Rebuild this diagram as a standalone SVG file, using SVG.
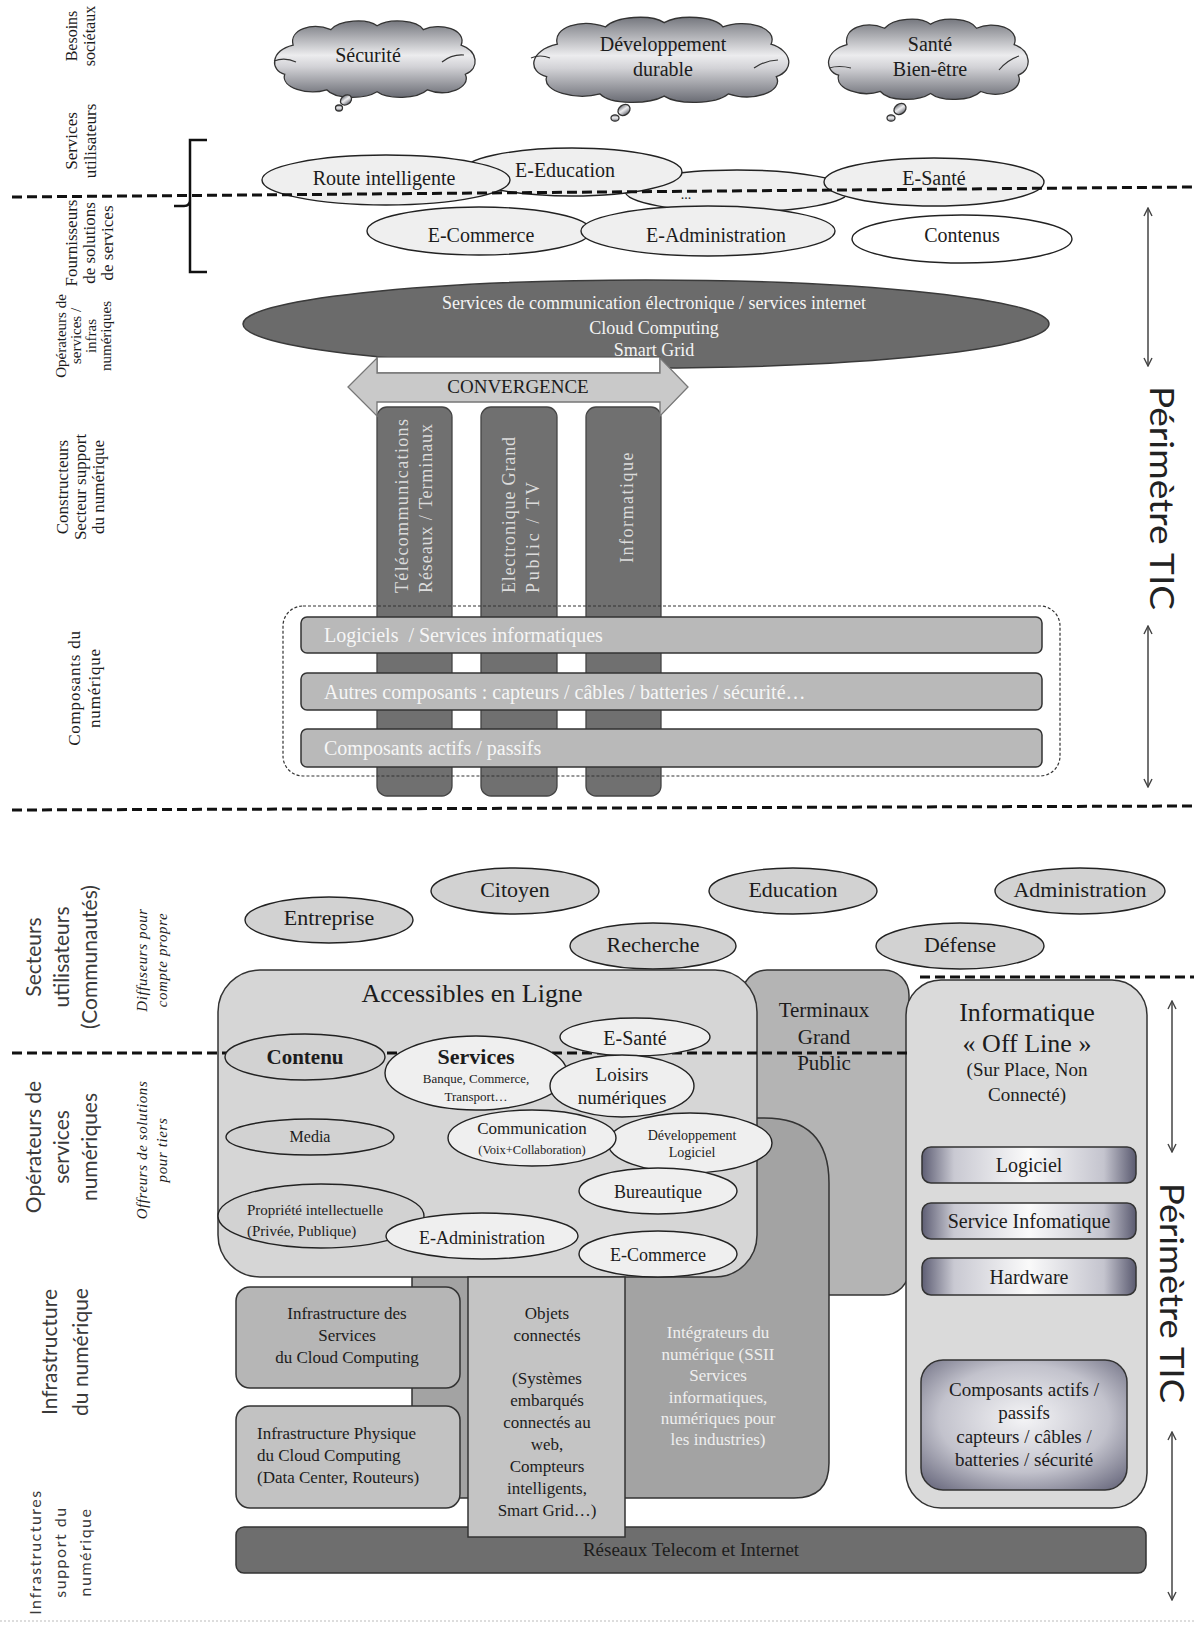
<svg xmlns="http://www.w3.org/2000/svg" width="1194" height="1625" viewBox="0 0 1194 1625">
<defs>
<style>
.t{font-family:"Liberation Serif","Times New Roman",serif;fill:#1c1c1c}
.m{text-anchor:middle}
.s{font-family:Lato,"Open Sans","Liberation Sans",sans-serif;fill:#3a3a3a;text-anchor:middle}
.el{fill:#efefef;stroke:#222;stroke-width:1.4}
.eg{fill:#d2d2d2;stroke:#222;stroke-width:1.4}
.dash{fill:none;stroke:#111;stroke-width:3;stroke-dasharray:10 5}
.arr{fill:none;stroke:#444;stroke-width:1.5;marker-start:url(#ah);marker-end:url(#ah)}
.cl{fill:url(#cg);stroke:#333;stroke-width:1.3}
.curl{fill:none;stroke:#333;stroke-width:1.2}
.bar{fill:#b9b9b9;stroke:#333;stroke-width:1.5}
.vb{fill:#707070;stroke:#444;stroke-width:1.3}
.met{fill:url(#mg);stroke:#333;stroke-width:1.5}
.lw{fill:#f4f4f4}
.bt{fill:#dcdcdc}
</style>
<linearGradient id="cg" x1="0" y1="0" x2="0" y2="1">
<stop offset="0" stop-color="#76787f"/>
<stop offset="0.45" stop-color="#ececee"/>
<stop offset="0.6" stop-color="#d2d2d6"/>
<stop offset="1" stop-color="#6a6c74"/>
</linearGradient>
<linearGradient id="mg" x1="0" y1="0" x2="1" y2="0">
<stop offset="0" stop-color="#5e5e74"/>
<stop offset="0.15" stop-color="#c9c9d2"/>
<stop offset="0.5" stop-color="#fafafa"/>
<stop offset="0.85" stop-color="#c4c4ce"/>
<stop offset="1" stop-color="#5a5a70"/>
</linearGradient>
<radialGradient id="mg2" cx="0.5" cy="0.45" r="0.75">
<stop offset="0" stop-color="#f4f4f6"/>
<stop offset="0.55" stop-color="#c2c2cc"/>
<stop offset="1" stop-color="#5c5c72"/>
</radialGradient>
<marker id="ah" viewBox="0 0 10 10" refX="9" refY="5" markerWidth="10" markerHeight="10" markerUnits="userSpaceOnUse" orient="auto-start-reverse">
<path d="M1,1 L9,5 L1,9" fill="none" stroke="#444" stroke-width="1.4"/>
</marker>
<path id="cloud" vector-effect="non-scaling-stroke" d="M22,28 C18,12 40,4 58,12 C66,2 92,0 102,8 C114,0 140,2 146,12 C162,4 188,12 182,28 C198,34 200,52 186,58 C192,72 168,82 150,74 C140,84 112,84 102,76 C90,84 62,84 54,74 C36,80 10,72 14,58 C0,54 0,34 22,28 Z"/>
</defs>
<rect x="0" y="0" width="1194" height="1625" fill="#ffffff"/>

<!-- Left labels, top section -->
<g id="lbl-besoins" class="t" font-size="16"><text class="m" transform="translate(77,36) rotate(-90)"><tspan x="0" y="0">Besoins</tspan><tspan x="0" y="18">sociétaux</tspan></text></g>
<g id="lbl-services-util" class="t" font-size="17"><text class="m" transform="translate(77,141) rotate(-90)"><tspan x="0" y="0">Services</tspan><tspan x="0" y="19">utilisateurs</tspan></text></g>
<g id="lbl-fournisseurs" class="t" font-size="17"><text class="m" transform="translate(77,243) rotate(-90)"><tspan x="0" y="0">Fournisseurs</tspan><tspan x="0" y="18">de solutions</tspan><tspan x="0" y="36">de services</tspan></text></g>
<g id="lbl-operateurs" class="t" font-size="15"><text class="m" transform="translate(66,336) rotate(-90)"><tspan x="0" y="0">Opérateurs de</tspan><tspan x="0" y="15">services /</tspan><tspan x="0" y="30">infras</tspan><tspan x="0" y="45">numériques</tspan></text></g>
<g id="lbl-constructeurs" class="t" font-size="17"><text class="m" transform="translate(68,487) rotate(-90)"><tspan x="0" y="0">Constructeurs</tspan><tspan x="0" y="18">Secteur support</tspan><tspan x="0" y="36">du numérique</tspan></text></g>
<g id="lbl-composants" class="t" font-size="17"><text class="m" letter-spacing="0.8" transform="translate(80,688) rotate(-90)"><tspan x="0" y="0">Composants du</tspan><tspan x="0" y="20">numérique</tspan></text></g>

<!-- Clouds -->
<g id="cloud-securite">
<use href="#cloud" class="cl" transform="translate(270,18) scale(1.05,0.97)"/>
<path class="curl" d="M274,61 Q285,57 296,62 M464,55 Q452,54 442,62"/>
<ellipse cx="346" cy="100" rx="6" ry="4.5" class="cl" transform="rotate(-35 346 100)"/>
<ellipse cx="339" cy="108" rx="3.5" ry="3" class="cl"/>
<text class="t m" x="368" y="62" font-size="20">Sécurité</text>
</g>
<g id="cloud-developpement">
<use href="#cloud" class="cl" transform="translate(528,14) scale(1.335,1.08)"/>
<path class="curl" d="M531,58 Q540,54 550,58 M778,60 Q766,60 754,68"/>
<ellipse cx="624" cy="110" rx="6.5" ry="5" class="cl" transform="rotate(-35 624 110)"/>
<ellipse cx="615" cy="118" rx="4" ry="3.2" class="cl"/>
<text class="t m" x="663" y="51" font-size="20">Développement</text>
<text class="t m" x="663" y="76" font-size="20">durable</text>
</g>
<g id="cloud-sante">
<use href="#cloud" class="cl" transform="translate(824,16) scale(1.045,1.02)"/>
<path class="curl" d="M829,68 Q839,65 851,68 M1019,56 Q1007,60 999,70"/>
<ellipse cx="900" cy="109" rx="6.5" ry="5" class="cl" transform="rotate(-35 900 109)"/>
<ellipse cx="891" cy="118" rx="4" ry="3.2" class="cl"/>
<text class="t m" x="930" y="51" font-size="20">Santé</text>
<text class="t m" x="930" y="76" font-size="20">Bien-être</text>
</g>

<!-- Bracket -->
<g id="bracket"><path d="M207,140 H190 V272 H207 M190,200 Q190,206 184,206 H174" fill="none" stroke="#111" stroke-width="2.5"/></g>

<!-- Service ellipses -->
<g id="e-dots"><ellipse class="el" cx="737" cy="191" rx="112" ry="21"/><text class="t m" x="686" y="199" font-size="14">...</text></g>
<g id="e-education"><ellipse class="el" cx="572" cy="172" rx="110" ry="24"/><text class="t m" x="565" y="177" font-size="20">E-Education</text></g>
<g id="e-route"><ellipse class="el" cx="386" cy="180" rx="124" ry="25"/><text class="t m" x="384" y="185" font-size="20">Route intelligente</text></g>
<g id="e-sante-top"><ellipse class="el" cx="934" cy="182" rx="110" ry="24"/><text class="t m" x="934" y="185" font-size="20">E-Santé</text></g>
<g id="e-commerce-top"><ellipse class="el" cx="479" cy="231" rx="112" ry="24"/><text class="t m" x="481" y="242" font-size="20">E-Commerce</text></g>
<g id="e-admin-top"><ellipse class="el" cx="708" cy="231" rx="127" ry="25"/><text class="t m" x="716" y="242" font-size="20">E-Administration</text></g>
<g id="e-contenus"><ellipse cx="962" cy="239" rx="110" ry="24" fill="#ffffff" stroke="#222" stroke-width="1.4"/><text class="t m" x="962" y="242" font-size="20">Contenus</text></g>

<!-- Services de communication -->
<g id="services-comm">
<ellipse cx="646" cy="324" rx="403" ry="44" fill="#6b6b6b" stroke="#3a3a3a" stroke-width="1.5"/>
<text class="t m lw" x="654" y="309" font-size="18">Services de communication électronique / services internet</text>
<text class="t m lw" x="654" y="334" font-size="18">Cloud Computing</text>
<text class="t m lw" x="654" y="356" font-size="18">Smart Grid</text>
</g>
<rect x="377" y="357" width="283" height="16" fill="#ffffff" stroke="#555" stroke-width="1.2"/>

<!-- Vertical bars -->
<g id="bar-telecom">
<rect class="vb" x="377" y="407" width="75" height="389" rx="10"/>
<text class="t bt" font-size="18" transform="translate(408,593) rotate(-90)" textLength="174" lengthAdjust="spacing">Télécommunications</text>
<text class="t bt" font-size="18" transform="translate(432,593) rotate(-90)" textLength="169" lengthAdjust="spacing">Réseaux / Terminaux</text>
</g>
<g id="bar-electronique">
<rect class="vb" x="481" y="407" width="76" height="389" rx="10"/>
<text class="t bt" font-size="18" transform="translate(515,593) rotate(-90)" textLength="156" lengthAdjust="spacing">Electronique Grand</text>
<text class="t bt" font-size="18" transform="translate(539,593) rotate(-90)" textLength="111" lengthAdjust="spacing">Public / TV</text>
</g>
<g id="bar-informatique">
<rect class="vb" x="586" y="407" width="75" height="389" rx="10"/>
<text class="t m bt" font-size="18" letter-spacing="1.5" transform="translate(633,507) rotate(-90)">Informatique</text>
</g>

<!-- Convergence arrow -->
<g id="convergence">
<polygon points="348,387 377,358 377,373 660,373 660,358 688,387 660,416 660,402 377,402 377,416" fill="#c9c9c9" stroke="#777" stroke-width="1.3"/>
<text class="t m" x="518" y="393" font-size="19">CONVERGENCE</text>
</g>

<!-- Composants -->
<g id="composants-group"><rect x="283" y="606" width="777" height="170" rx="20" fill="none" stroke="#333" stroke-width="1.2" stroke-dasharray="3 2"/></g>
<g id="bar-logiciels"><rect class="bar" x="301" y="617" width="741" height="36" rx="6"/><text class="t" x="324" y="642" font-size="20" style="fill:#f6f6f6" xml:space="preserve">Logiciels  / Services informatiques</text></g>
<g id="bar-autres"><rect class="bar" x="301" y="673" width="741" height="37" rx="6"/><text class="t" x="324" y="699" font-size="20" style="fill:#f6f6f6">Autres composants : capteurs / câbles / batteries / sécurité…</text></g>
<g id="bar-actifs"><rect class="bar" x="301" y="729" width="741" height="38" rx="6"/><text class="t" x="324" y="755" font-size="20" style="fill:#f6f6f6">Composants actifs / passifs</text></g>

<!-- Bottom left labels -->
<g id="lbl-secteurs"><text class="s" font-size="21" transform="translate(41,957) rotate(-90)"><tspan x="0" y="0">Secteurs</tspan><tspan x="0" y="28">utilisateurs</tspan><tspan x="0" y="56">(Communautés)</tspan></text></g>
<g id="lbl-diffuseurs"><text class="t m" font-size="15" font-style="italic" letter-spacing="0.6" transform="translate(147,960) rotate(-90)"><tspan x="0" y="0">Diffuseurs pour</tspan><tspan x="0" y="20">compte propre</tspan></text></g>
<g id="lbl-operateurs-num"><text class="s" font-size="21" transform="translate(41,1147) rotate(-90)"><tspan x="0" y="0">Opérateurs de</tspan><tspan x="0" y="28">services</tspan><tspan x="0" y="56">numériques</tspan></text></g>
<g id="lbl-offreurs"><text class="t m" font-size="15" font-style="italic" letter-spacing="0.6" transform="translate(147,1150) rotate(-90)"><tspan x="0" y="0">Offreurs de solutions</tspan><tspan x="0" y="20">pour tiers</tspan></text></g>
<g id="lbl-infra"><text class="s" font-size="21" transform="translate(57,1352) rotate(-90)"><tspan x="0" y="0">Infrastructure</tspan><tspan x="0" y="31">du numérique</tspan></text></g>
<g id="lbl-infra-support"><text class="s" font-size="16" letter-spacing="1.5" transform="translate(41,1552) rotate(-90)"><tspan x="0" y="0">Infrastructures</tspan><tspan x="0" y="25">support du</tspan><tspan x="0" y="50">numérique</tspan></text></g>

<!-- Sector ellipses -->
<g id="s-entreprise"><ellipse class="eg" cx="329" cy="920" rx="84" ry="23"/><text class="t m" x="329" y="925" font-size="22">Entreprise</text></g>
<g id="s-citoyen"><ellipse class="eg" cx="515" cy="891" rx="84" ry="23"/><text class="t m" x="515" y="897" font-size="22">Citoyen</text></g>
<g id="s-recherche"><ellipse class="eg" cx="653" cy="946" rx="83" ry="23"/><text class="t m" x="653" y="952" font-size="22">Recherche</text></g>
<g id="s-education"><ellipse class="eg" cx="793" cy="891" rx="84" ry="23"/><text class="t m" x="793" y="897" font-size="22">Education</text></g>
<g id="s-administration"><ellipse class="eg" cx="1080" cy="891" rx="85" ry="23"/><text class="t m" x="1080" y="897" font-size="22">Administration</text></g>
<g id="s-defense"><ellipse class="eg" cx="960" cy="946" rx="84" ry="23"/><text class="t m" x="960" y="952" font-size="22">Défense</text></g>

<!-- Bottom boxes -->
<g id="terminaux">
<rect x="742" y="970" width="167" height="325" rx="25" fill="#b4b4b4" stroke="#333" stroke-width="1.5"/>
<text class="t m" x="824" y="1017" font-size="21">Terminaux</text>
<text class="t m" x="824" y="1044" font-size="21">Grand</text>
<text class="t m" x="824" y="1070" font-size="21">Public</text>
</g>
<g id="integrateurs">
<path d="M412,1118 H764 Q829,1118 829,1183 V1463 Q829,1498 794,1498 H412 Z" fill="#a3a3a3" stroke="#333" stroke-width="1.5"/>
<g class="t m" font-size="17" style="fill:#efefef">
<text x="718" y="1338">Intégrateurs du</text>
<text x="718" y="1360">numérique (SSII</text>
<text x="718" y="1381">Services</text>
<text x="718" y="1403">informatiques,</text>
<text x="718" y="1424">numériques pour</text>
<text x="718" y="1445">les industries)</text>
</g>
</g>
<g id="accessibles">
<rect x="218" y="970" width="539" height="307" rx="42" fill="#d6d6d6" stroke="#333" stroke-width="1.5"/>
<text class="t m" x="472" y="1002" font-size="26">Accessibles en Ligne</text>
</g>
<g id="informatique-offline">
<rect x="906" y="980" width="241" height="528" rx="35" fill="#dadada" stroke="#333" stroke-width="1.5"/>
<text class="t m" x="1027" y="1021" font-size="26">Informatique</text>
<text class="t m" x="1027" y="1052" font-size="26">« Off Line »</text>
<text class="t m" x="1027" y="1076" font-size="19">(Sur Place, Non</text>
<text class="t m" x="1027" y="1101" font-size="19">Connecté)</text>
</g>
<g id="off-logiciel"><rect class="met" x="922" y="1147" width="214" height="36" rx="9"/><text class="t m" x="1029" y="1172" font-size="20">Logiciel</text></g>
<g id="off-service"><rect class="met" x="922" y="1203" width="214" height="36" rx="9"/><text class="t m" x="1029" y="1228" font-size="20">Service Infomatique</text></g>
<g id="off-hardware"><rect class="met" x="922" y="1258" width="214" height="37" rx="9"/><text class="t m" x="1029" y="1284" font-size="20">Hardware</text></g>
<g id="off-composants">
<rect x="921" y="1360" width="206" height="130" rx="22" fill="url(#mg2)" stroke="#333" stroke-width="1.5"/>
<g class="t m" font-size="19">
<text x="1024" y="1396">Composants actifs /</text>
<text x="1024" y="1419">passifs</text>
<text x="1024" y="1443">capteurs / câbles /</text>
<text x="1024" y="1466">batteries / sécurité</text>
</g>
</g>
<g id="infra-services">
<rect x="236" y="1287" width="224" height="101" rx="14" fill="#b6b6b6" stroke="#333" stroke-width="1.5"/>
<g class="t m" font-size="17"><text x="347" y="1319">Infrastructure des</text><text x="347" y="1341">Services</text><text x="347" y="1363">du Cloud Computing</text></g>
</g>
<g id="infra-physique">
<rect x="236" y="1406" width="224" height="102" rx="14" fill="#c2c2c2" stroke="#333" stroke-width="1.5"/>
<g class="t" font-size="17"><text x="257" y="1439">Infrastructure Physique</text><text x="257" y="1461">du Cloud Computing</text><text x="257" y="1483">(Data Center, Routeurs)</text></g>
</g>
<g id="reseaux">
<rect x="236" y="1527" width="910" height="46" rx="8" fill="#6e6e6e" stroke="#333" stroke-width="1.5"/>
<text class="t m" x="691" y="1556" font-size="19">Réseaux Telecom et Internet</text>
</g>
<g id="objets">
<rect x="468" y="1277" width="157" height="260" fill="#c4c4c4" stroke="#333" stroke-width="1.5"/>
<g class="t m" font-size="17">
<text x="547" y="1319">Objets</text><text x="547" y="1341">connectés</text>
<text x="547" y="1384">(Systèmes</text><text x="547" y="1406">embarqués</text><text x="547" y="1428">connectés au</text>
<text x="547" y="1450">web,</text><text x="547" y="1472">Compteurs</text><text x="547" y="1494">intelligents,</text><text x="547" y="1516">Smart Grid…)</text>
</g>
</g>

<!-- Connectors: separators and perimeter arrows -->
<g id="connectors">
<line class="dash" x1="12" y1="197" x2="1194" y2="187"/>
<line class="dash" x1="12" y1="810" x2="1194" y2="806"/>
<line class="dash" x1="12" y1="1053" x2="910" y2="1053"/>
<line class="dash" x1="920" y1="977" x2="1194" y2="977"/>
<line x1="0" y1="1621" x2="1194" y2="1621" stroke="#dddddd" stroke-width="2" stroke-dasharray="2 2"/>
<line class="arr" x1="1148" y1="208" x2="1148" y2="366"/>
<line class="arr" x1="1148" y1="626" x2="1148" y2="787"/>
<line class="arr" x1="1172" y1="1001" x2="1172" y2="1152"/>
<line class="arr" x1="1172" y1="1432" x2="1172" y2="1600"/>
</g>
<g id="perimetre-top"><text font-family="Lato,'Open Sans',sans-serif" font-size="33" fill="#222" text-anchor="middle" transform="translate(1150,498) rotate(90)" textLength="224" lengthAdjust="spacingAndGlyphs">Périmètre TIC</text></g>
<g id="perimetre-bottom"><text font-family="Lato,'Open Sans',sans-serif" font-size="32" fill="#222" text-anchor="middle" transform="translate(1160,1293) rotate(90)" textLength="220" lengthAdjust="spacingAndGlyphs">Périmètre TIC</text></g>

<!-- Ellipses inside Accessibles en Ligne -->
<g id="a-contenu"><ellipse class="eg" cx="305" cy="1057" rx="80" ry="23"/><text class="t m" x="305" y="1064" font-size="21" font-weight="bold">Contenu</text></g>
<g id="a-media"><ellipse class="eg" cx="310" cy="1137" rx="84" ry="18"/><text class="t m" x="310" y="1142" font-size="16">Media</text></g>
<g id="a-propriete"><ellipse class="eg" cx="321" cy="1216" rx="103" ry="32"/><text class="t" x="247" y="1215" font-size="15">Propriété intellectuelle</text><text class="t" x="247" y="1236" font-size="15">(Privée, Publique)</text></g>
<g id="a-esante"><ellipse class="el" cx="635" cy="1037" rx="75" ry="19"/><text class="t m" x="635" y="1045" font-size="20">E-Santé</text></g>
<g id="a-services"><ellipse class="el" cx="476" cy="1073" rx="91" ry="37"/><text class="t m" x="476" y="1064" font-size="22" font-weight="bold">Services</text><text class="t m" x="476" y="1083" font-size="13">Banque, Commerce,</text><text class="t m" x="476" y="1101" font-size="13">Transport…</text></g>
<g id="a-loisirs"><ellipse class="el" cx="622" cy="1086" rx="72" ry="31"/><text class="t m" x="622" y="1081" font-size="19">Loisirs</text><text class="t m" x="622" y="1104" font-size="19">numériques</text></g>
<g id="a-devlog"><ellipse class="el" cx="690" cy="1143" rx="82" ry="30"/><text class="t m" x="692" y="1140" font-size="14">Développement</text><text class="t m" x="692" y="1157" font-size="14">Logiciel</text></g>
<g id="a-communication"><ellipse class="el" cx="532" cy="1138" rx="84" ry="28"/><text class="t m" x="532" y="1134" font-size="17">Communication</text><text class="t m" x="532" y="1154" font-size="12.5">(Voix+Collaboration)</text></g>
<g id="a-bureautique"><ellipse class="el" cx="658" cy="1191" rx="79" ry="23"/><text class="t m" x="658" y="1198" font-size="18">Bureautique</text></g>
<g id="a-eadmin"><ellipse class="el" cx="482" cy="1236" rx="96" ry="23"/><text class="t m" x="482" y="1244" font-size="18">E-Administration</text></g>
<g id="a-ecommerce"><ellipse class="el" cx="658" cy="1254" rx="79" ry="23"/><text class="t m" x="658" y="1261" font-size="18">E-Commerce</text></g>
</svg>
